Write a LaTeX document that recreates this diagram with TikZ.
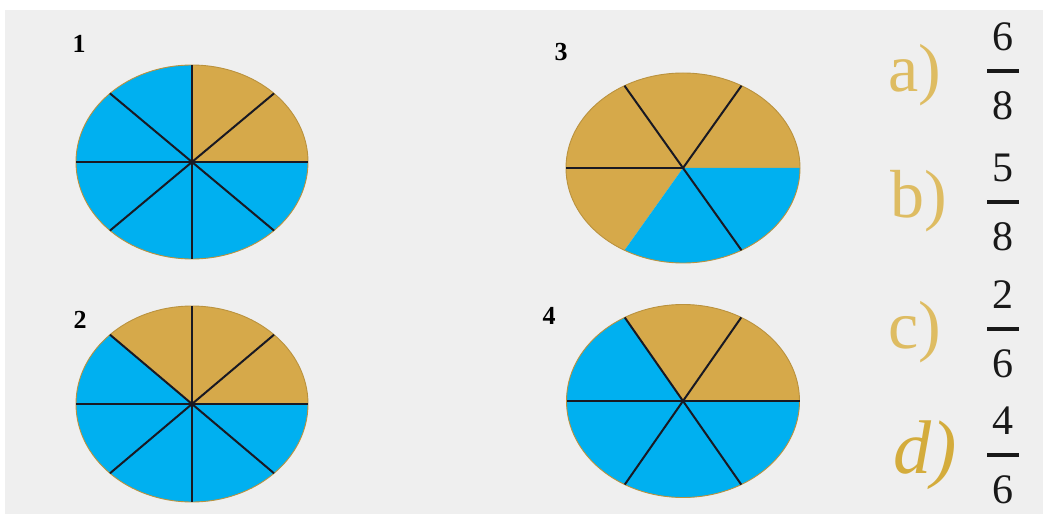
\documentclass[tikz,border=0pt]{standalone}
\usepackage{fontspec}
\setmainfont{Liberation Serif}
\usepackage{xcolor}
\usepackage{tikz}
\usetikzlibrary{positioning, calc}
\definecolor{PieGold}{RGB}{214,169,74}
\definecolor{PieBlue}{RGB}{0,176,240}
\definecolor{RimColor}{RGB}{186,146,62}
\definecolor{SpokeColor}{RGB}{25,25,35}
\definecolor{LetterGold}{RGB}{222,188,98}
\definecolor{LetterGoldDark}{RGB}{212,172,60}
\definecolor{PageGray}{RGB}{239,239,239}
\tikzset{
    spoke/.style={draw=SpokeColor, line width=2pt},
    rim/.style={draw=RimColor, line width=0.9pt},
    pienum/.style={font=\fontsize{26}{26}\selectfont\bfseries, inner sep=0pt},
    choice/.style={font=\fontsize{68}{68}\selectfont, text=LetterGold, anchor=base west, inner sep=0pt},
    digit/.style={font=\fontsize{42}{42}\selectfont, text=black!90, inner sep=0pt},
    fracbar/.style={fill=black!90, minimum width=32pt, minimum height=4pt, inner sep=0pt}
}
% one coloured slice of an elliptic pie: centre, x radius, y radius, from, to, colour
\newcommand{\slicefill}[6]{%
    \fill[#6] (#1) -- ++(#4:#2 and #3) arc[start angle=#4, end angle=#5, x radius=#2, y radius=#3] -- cycle;}

\begin{document}
\begin{tikzpicture}[x=1pt, y=1pt]

\useasboundingbox (0,0) rectangle (1043,517);
\fill[white] (0,0) rectangle (1043,517);
\fill[PageGray] (5,3) rectangle (1043,507);

% Pie 1
\coordinate (pie1) at (192,355);
\slicefill{pie1}{116pt}{97pt}{0}{90}{PieGold}
\slicefill{pie1}{116pt}{97pt}{90}{360}{PieBlue}
\draw[rim] (pie1) ellipse [x radius=116pt, y radius=97pt];
\foreach \a in {0,45,...,315}
    \draw[spoke] (pie1) -- ++(\a:116pt and 97pt);
\node[pienum] (num1) at (79,473) {1};

% Pie 2
\coordinate (pie2) at (192,113);
\slicefill{pie2}{116pt}{98pt}{0}{135}{PieGold}
\slicefill{pie2}{116pt}{98pt}{135}{360}{PieBlue}
\draw[rim] (pie2) ellipse [x radius=116pt, y radius=98pt];
\foreach \a in {0,45,...,315}
    \draw[spoke] (pie2) -- ++(\a:116pt and 98pt);
\node[pienum] (num2) at (80,197) {2};

% Pie 3
\coordinate (pie3) at (683,349);
\slicefill{pie3}{117pt}{95pt}{0}{240}{PieGold}
\slicefill{pie3}{117pt}{95pt}{240}{360}{PieBlue}
\draw[rim] (pie3) ellipse [x radius=117pt, y radius=95pt];
\foreach \a in {60,120,180,300}
    \draw[spoke] (pie3) -- ++(\a:117pt and 95pt);
\node[pienum] (num3) at (561,465) {3};

% Pie 4
\coordinate (pie4) at (683,116);
\slicefill{pie4}{116.5pt}{96.5pt}{0}{120}{PieGold}
\slicefill{pie4}{116.5pt}{96.5pt}{120}{360}{PieBlue}
\draw[rim] (pie4) ellipse [x radius=116.5pt, y radius=96.5pt];
\foreach \a in {0,60,...,300}
    \draw[spoke] (pie4) -- ++(\a:116.5pt and 96.5pt);
\node[pienum] (num4) at (549,201) {4};

% Choices
\node[choice] (optA) at (888,425) {a)};
\node[choice] (optB) at (890,299) {b)};
\node[choice] (optC) at (888,169) {c)};
\node[choice, text=LetterGoldDark, font=\fontsize{76}{76}\selectfont\itshape] (optD) at (893,44) {d)};

% Fractions
\node[fracbar] (barA) at (1003,446) {};
\node[digit, above=18pt of barA] (numA) {6};
\node[digit, below=18pt of barA] (denA) {8};

\node[fracbar] (barB) at (1003,315) {};
\node[digit, above=18pt of barB] (numB) {5};
\node[digit, below=18pt of barB] (denB) {8};

\node[fracbar] (barC) at (1003,188) {};
\node[digit, above=18pt of barC] (numC) {2};
\node[digit, below=18pt of barC] (denC) {6};

\node[fracbar] (barD) at (1003,62) {};
\node[digit, above=18pt of barD] (numD) {4};
\node[digit, below=18pt of barD] (denD) {6};

\end{tikzpicture}
\end{document}
